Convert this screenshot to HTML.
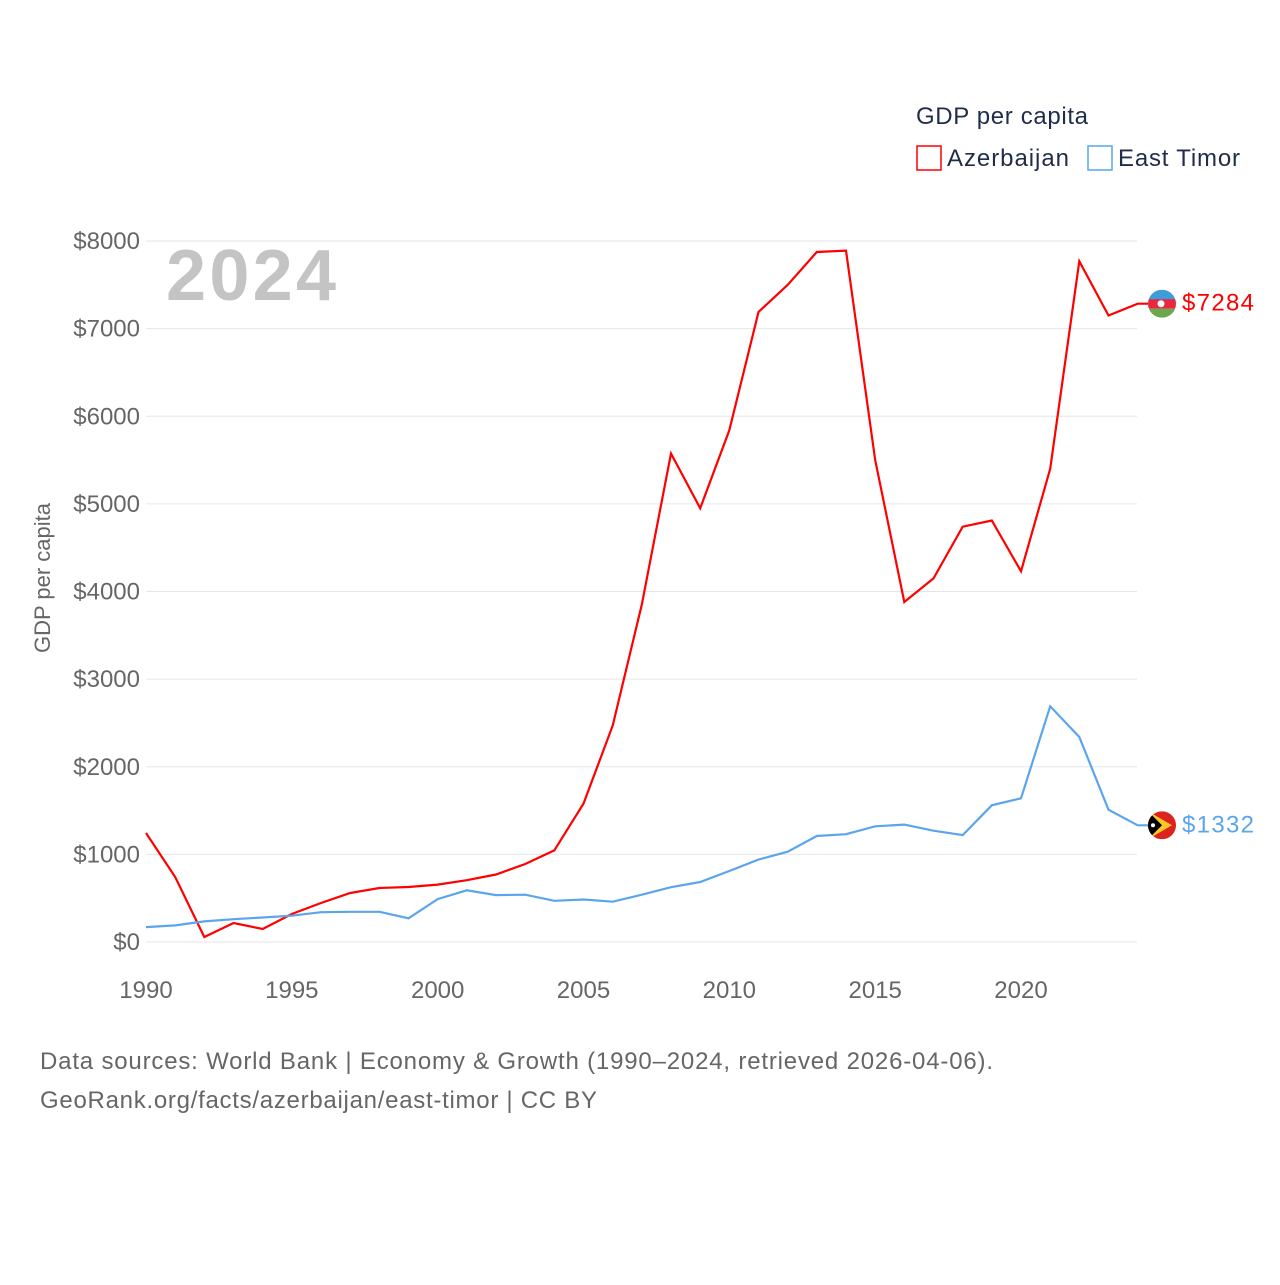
<!DOCTYPE html>
<html><head><meta charset="utf-8"><style>
body{margin:0;background:#fff;font-family:"Liberation Sans",sans-serif}
svg text{font-family:"Liberation Sans",sans-serif}
</style></head><body>
<svg width="1280" height="1280" viewBox="0 0 1280 1280">
<g id="grid"></g>
<g id="ylabels"></g>
<g id="xlabels"></g>
<text x="166" y="300" font-size="72" font-weight="bold" fill="#c4c4c4" textLength="170">2024</text>
<text transform="translate(50,578) rotate(-90)" text-anchor="middle" font-size="22" fill="#666">GDP per capita</text>
<text x="916" y="124" font-size="24" fill="#1f2d4a" textLength="172">GDP per capita</text>
<g><rect x="917" y="146" width="24" height="24" fill="none" stroke="#f00" stroke-width="1.5"/><text x="947" y="166" font-size="24" fill="#1f2d4a" textLength="122">Azerbaijan</text></g>
<g><rect x="1088" y="146" width="24" height="24" fill="none" stroke="#5aa5ec" stroke-width="1.5"/><text x="1118" y="166" font-size="24" fill="#1f2d4a" textLength="122">East Timor</text></g>
<path id="az" fill="none" stroke="#f00" stroke-width="2.2"/>
<path id="et" fill="none" stroke="#5aa5ec" stroke-width="2.2"/>
<g id="ends"></g>
<text x="40" y="1069" font-size="24" fill="#666" textLength="953">Data sources: World Bank | Economy &amp; Growth (1990–2024, retrieved 2026-04-06).</text>
<text x="40" y="1108" font-size="24" fill="#666" textLength="557">GeoRank.org/facts/azerbaijan/east-timor | CC BY</text>
</svg>
<script>
const years=[];for(let y=1990;y<=2024;y++)years.push(y);
const azerbaijan=[1244,742,57,217,148,320,445,559,616,628,655,705,770,890,1045,1580,2470,3850,5575,4950,5840,7190,7500,7875,7890,5500,3880,4150,4740,4810,4230,5400,7770,7150,7284];
const eastTimor=[170,190,235,260,280,300,340,345,345,270,490,590,535,540,470,485,460,540,625,685,810,940,1030,1210,1230,1320,1340,1270,1220,1560,1640,2690,2340,1510,1332];
const yTicks=[0,1000,2000,3000,4000,5000,6000,7000,8000];
const xTicks=[1990,1995,2000,2005,2010,2015,2020];
const X=y=>146+(y-1990)*875/30;
const Y=v=>942-v*701/8000;
const NS="http://www.w3.org/2000/svg";
function mk(t,a,p,txt){const e=document.createElementNS(NS,t);for(const k in a)e.setAttribute(k,a[k]);if(txt!==undefined)e.textContent=txt;p.appendChild(e);return e;}
const grid=document.getElementById('grid'),yl=document.getElementById('ylabels'),xl=document.getElementById('xlabels');
yTicks.forEach(v=>{const l=mk('line',{x1:146,x2:1137,y1:Y(v),y2:Y(v),stroke:'#e6e6e6','stroke-width':1},grid);


const t=mk('text',{x:140,y:Y(v)+8,'text-anchor':'end','font-size':24,fill:'#666'},yl,'$'+v);

});
xTicks.forEach(v=>{const t=mk('text',{x:X(v),y:998,'text-anchor':'middle','font-size':24,fill:'#666'},xl,String(v));

});
const path=arr=>arr.map((v,i)=>(i?'L':'M')+X(years[i]).toFixed(1)+','+Y(v).toFixed(1)).join('');
document.getElementById('az').setAttribute('d',path(azerbaijan)+'L1148,'+Y(azerbaijan[34]).toFixed(1));
document.getElementById('et').setAttribute('d',path(eastTimor)+'L1148,'+Y(eastTimor[34]).toFixed(1));
const ends=document.getElementById('ends');
const ay=Y(azerbaijan[34]),ey=Y(eastTimor[34]);
const g1=mk('g',{},ends);


mk('clipPath',{id:'c1'},g1);mk('circle',{cx:1162,cy:ay,r:14},g1.firstChild);
const f1=mk('g',{'clip-path':'url(#c1)'},g1);
mk('rect',{x:1148,y:ay-14,width:28,height:10,fill:'#3f9cdb'},f1);
mk('rect',{x:1148,y:ay-4.5,width:28,height:9.5,fill:'#e8283f'},f1);
mk('rect',{x:1148,y:ay+5,width:28,height:9,fill:'#6aa84f'},f1);
mk('circle',{cx:1161,cy:ay,r:3.5,fill:'#fff'},f1);
const t1=mk('text',{x:1182,y:ay+7,'font-size':24,fill:'#f00',textLength:72},ends,'$'+azerbaijan[34]);


const g2=mk('g',{},ends);


mk('clipPath',{id:'c2'},g2);mk('circle',{cx:1162,cy:ey,r:14},g2.firstChild);
const f2=mk('g',{'clip-path':'url(#c2)'},g2);
mk('rect',{x:1148,y:ey-14,width:28,height:28,fill:'#dc241f'},f2);
mk('polygon',{points:`1148,${ey-14} 1172,${ey} 1148,${ey+14}`,fill:'#ffc726'},f2);
mk('polygon',{points:`1148,${ey-14} 1162,${ey} 1148,${ey+14}`,fill:'#000'},f2);
mk('circle',{cx:1153,cy:ey,r:2,fill:'#fff'},f2);
const t2=mk('text',{x:1182,y:ey+7,'font-size':24,fill:'#5aa5ec',textLength:72},ends,'$'+eastTimor[34]);


</script>
</body></html>
